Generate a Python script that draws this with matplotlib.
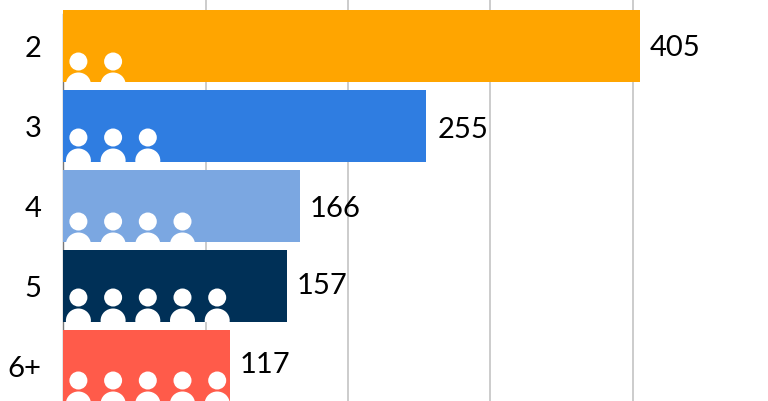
import matplotlib
matplotlib.use("Agg")
import matplotlib.pyplot as plt
from matplotlib.patches import Ellipse

plt.rcParams["font.family"] = ["Lato", "DejaVu Sans"]

labels = ["2", "3", "4", "5", "6+"]
values = [405, 255, 166, 157, 117]
people = [2, 3, 4, 5, 5]
colors = ["#FFA500", "#2F7DE1", "#7BA7E1", "#003057", "#FF5B4A"]
grid_ticks = [0, 100, 200, 300, 400]

W, H = 768, 402
LEFT = 63.4
PX_PER_UNIT = 1.4235
ROW_PX = 80
FIRST_ROW_PX = 46.5

# small per-row shifts seen in the reference
head_shift = [16, 12, 16, 12, 15]
label_shift = [2, 3, 3, 0, -1]
label_gap = [10, 11, 10, 10, 10]

fig = plt.figure(figsize=(W / 100, H / 100), dpi=100)
ax = fig.add_axes([LEFT / W, 0, 1 - LEFT / W, 1])
ax.set_xlim(0, (W - LEFT) / PX_PER_UNIT)
ax.set_ylim((H - FIRST_ROW_PX) / ROW_PX, -FIRST_ROW_PX / ROW_PX)

ax.set_axisbelow(True)
ax.set_xticks(grid_ticks[1:])
ax.grid(axis="x", color="#CCCCCC", linewidth=1.4)
ax.tick_params(axis="x", length=0, labelbottom=False)
ax.set_yticks(range(len(labels)), labels, fontsize=21)
ax.tick_params(axis="y", length=0, pad=16)
for name in ["top", "right", "bottom"]:
    ax.spines[name].set_visible(False)
ax.spines["left"].set_color("#777777")
ax.spines["left"].set_linewidth(1.0)
ax.spines["left"].set_zorder(1)
ax.spines["left"].set_bounds(-0.4, len(labels))

bars = ax.barh(range(len(labels)), values, height=0.9, color=colors, zorder=2)

unit_x = 1 / PX_PER_UNIT
unit_y = 1 / ROW_PX
for i, bar in enumerate(bars):
    head_y = i + head_shift[i] * unit_y
    for n in range(people[i]):
        x = (15 + n * 34.7) * unit_x
        head = Ellipse((x, head_y), 18 * unit_x, 18 * unit_y, color="white", lw=0, zorder=3)
        body = Ellipse((x, head_y + 23 * unit_y), 25 * unit_x, 24 * unit_y, color="white", lw=0, zorder=3)
        ax.add_patch(head)
        ax.add_patch(body)
        body.set_clip_path(bar)

    ax.annotate(str(values[i]), (values[i], i), xytext=(label_gap[i] * 0.72, -label_shift[i] * 0.72),
                textcoords="offset points", ha="left", va="center", fontsize=21, color="black")

fig.savefig("out.png", dpi=100)
